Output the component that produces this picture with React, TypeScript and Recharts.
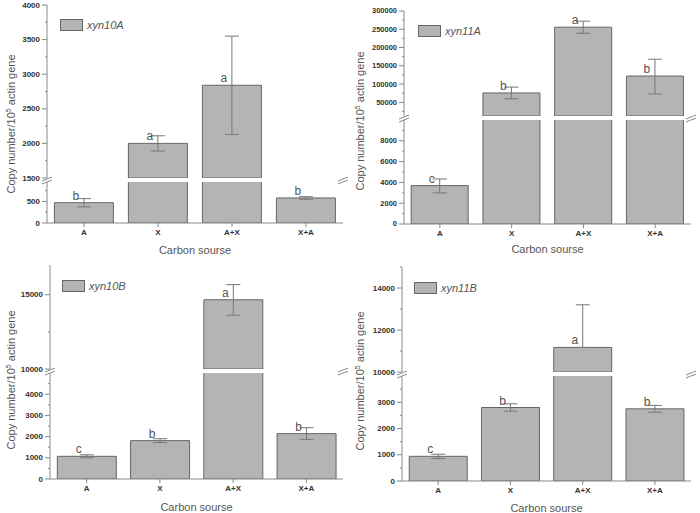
import React from "react";
import { BarChart, Bar, XAxis, YAxis, ErrorBar, LabelList, Legend } from "recharts";

const categories = ["A", "X", "A+X", "X+A"];

// xyn10A
const xyn10AValues = [470, 2000, 2840, 580];
const xyn10AErrors: [number, number][] = [[95, 95], [110, 110], [710, 710], [30, 30]];
const xyn10ALetters = ["b", "a", "a", "b"];
const xyn10AUpperMajor = [1500, 2000, 2500, 3000, 3500, 4000];
const xyn10AUpperMinor = [1750, 2250, 2750, 3250, 3750];
const xyn10ALowerMajor = [0, 500];
const xyn10ALowerMinor = [250, 750];

// xyn11A
const xyn11AValues = [3690, 75600, 255600, 122000];
const xyn11AErrors: [number, number][] = [[700, 640], [16000, 16000], [16500, 16500], [49000, 46000]];
const xyn11ALetters = ["c", "b", "a", "b"];
const xyn11AUpperMajor = [50000, 100000, 150000, 200000, 250000, 300000];
const xyn11AUpperMinor = [25000, 75000, 125000, 175000, 225000, 275000];
const xyn11ALowerMajor = [0, 2000, 4000, 6000, 8000];
const xyn11ALowerMinor = [1000, 3000, 5000, 7000, 9000];

// xyn10B
const xyn10BValues = [1070, 1810, 14660, 2140];
const xyn10BErrors: [number, number][] = [[70, 70], [90, 90], [1040, 1020], [270, 280]];
const xyn10BLetters = ["c", "b", "a", "b"];
const xyn10BUpperMajor = [10000, 15000];
const xyn10BUpperMinor = [12500];
const xyn10BLowerMajor = [0, 1000, 2000, 3000, 4000];
const xyn10BLowerMinor = [500, 1500, 2500, 3500, 4500];

// xyn11B
const xyn11BValues = [940, 2800, 11170, 2750];
const xyn11BErrors: [number, number][] = [[80, 80], [140, 140], [0, 2030], [130, 130]];
const xyn11BLetters = ["c", "b", "a", "b"];
const xyn11BUpperMajor = [10000, 12000, 14000];
const xyn11BUpperMinor = [11000, 13000, 15000];
const xyn11BLowerMajor = [0, 1000, 2000, 3000];
const xyn11BLowerMinor = [500, 1500, 2500, 3500];

const FONT = "Arial, 'Liberation Sans', sans-serif";
const AXIS = "#888";
const TEXT = "#555";
const BAR_FILL = "#b4b4b4";
const BAR_STROKE = "#666";
const YW = 40;

type PanelCfg = {
  name: string;
  values: number[];
  errors: [number, number][];
  letters: string[];
  upperDomain: [number, number];
  lowerDomain: [number, number];
  upperMajor: number[];
  upperMinor: number[];
  lowerMajor: number[];
  lowerMinor: number[];
  L: number; R: number; T: number; Bu: number; Tl: number; B: number;
  legend: [number, number];
  yLabel: [number, number];
  XH: number;
  tickFont: number;
};

const panels: PanelCfg[] = [
  {
    name: "xyn10A", values: xyn10AValues, errors: xyn10AErrors, letters: xyn10ALetters,
    upperDomain: [1500, 4000], lowerDomain: [0, 950],
    upperMajor: xyn10AUpperMajor, upperMinor: xyn10AUpperMinor,
    lowerMajor: xyn10ALowerMajor, lowerMinor: xyn10ALowerMinor,
    L: 47, R: 343, T: 5, Bu: 178, Tl: 182, B: 223, legend: [60, 19], yLabel: [11, 124], XH: 31, tickFont: 8,
  },
  {
    name: "xyn11A", values: xyn11AValues, errors: xyn11AErrors, letters: xyn11ALetters,
    upperDomain: [12500, 300000], lowerDomain: [0, 10000],
    upperMajor: xyn11AUpperMajor, upperMinor: xyn11AUpperMinor,
    lowerMajor: xyn11ALowerMajor, lowerMinor: xyn11ALowerMinor,
    L: 404, R: 691, T: 11, Bu: 116, Tl: 120, B: 224, legend: [418, 25], yLabel: [360, 121], XH: 29, tickFont: 7.5,
  },
  {
    name: "xyn10B", values: xyn10BValues, errors: xyn10BErrors, letters: xyn10BLetters,
    upperDomain: [10000, 17000], lowerDomain: [0, 5000],
    upperMajor: xyn10BUpperMajor, upperMinor: xyn10BUpperMinor,
    lowerMajor: xyn10BLowerMajor, lowerMinor: xyn10BLowerMinor,
    L: 50, R: 343, T: 265, Bu: 369, Tl: 373, B: 479, legend: [62, 280], yLabel: [11, 380], XH: 32, tickFont: 8,
  },
  {
    name: "xyn11B", values: xyn11BValues, errors: xyn11BErrors, letters: xyn11BLetters,
    upperDomain: [10000, 15000], lowerDomain: [0, 4000],
    upperMajor: xyn11BUpperMajor, upperMinor: xyn11BUpperMinor,
    lowerMajor: xyn11BLowerMajor, lowerMinor: xyn11BLowerMinor,
    L: 402, R: 691, T: 267, Bu: 372, Tl: 376, B: 481, legend: [414, 282], yLabel: [360, 381], XH: 31, tickFont: 8,
  },
];

function buildRows(p: PanelCfg) {
  const brk = p.upperDomain[0];
  const lowMax = p.lowerDomain[1];
  return categories.map((cat, i) => {
    const v = p.values[i];
    const inUpper = v > brk;
    const inLower = v <= lowMax;
    return {
      cat,
      upper: inUpper ? v : null,
      upperErr: inUpper ? p.errors[i] : null,
      upperLetter: inUpper ? p.letters[i] : "",
      lower: v,
      lowerErr: inLower ? p.errors[i] : null,
      lowerLetter: inLower ? p.letters[i] : "",
    };
  });
}

const makeYTick = (majors: number[], fs: number) => (props: any) => {
  const { x, y, payload } = props;
  const isMajor = majors.includes(payload.value);
  return (
    <g>
      <line x1={x} x2={x - (isMajor ? 5 : 2)} y1={y} y2={y} stroke={AXIS} />
      {isMajor && (
        <text x={x - 7} y={y} dy="0.33em" textAnchor="end" fontSize={fs} fontWeight="bold" fill="#333" fontFamily={FONT}>
          {payload.value}
        </text>
      )}
    </g>
  );
};

const letterLabel = (props: any) => {
  const { x, y, width, value } = props;
  if (!value || x == null || y == null) return null;
  return (
    <text x={x + width / 2 - 8} y={y - 3} textAnchor="middle" fontSize={12} fill={TEXT} fontFamily={FONT}>
      {value}
    </text>
  );
};

function Panel({ p }: { p: PanelCfg }) {
  const rows = buildRows(p);
  const plotW = p.R - p.L;
  const MR = 5;
  const MB = 6;
  const upperTop = p.T - 5;
  const upperH = p.Bu - p.T + 10;
  const lowerTop = p.Tl - 5;
  const lowerH = p.B - p.Tl + 5 + p.XH + MB;
  const chartLeft = p.L - YW;
  const chartW = plotW + YW + MR;
  const brkY = (p.Bu + p.Tl) / 2;
  const upperTicks = [...p.upperMajor, ...p.upperMinor].sort((a, b) => a - b);
  const lowerTicks = [...p.lowerMajor, ...p.lowerMinor].sort((a, b) => a - b);

  return (
    <>
      <div style={{ position: "absolute", left: chartLeft, top: upperTop }}>
        <BarChart width={chartW} height={upperH} data={rows} margin={{ top: 5, right: MR, bottom: 5, left: 0 }} barCategoryGap="10%">
          <XAxis dataKey="cat" orientation="top" height={0} tick={false} tickLine={false} axisLine={{ stroke: AXIS }} />
          <YAxis yAxisId="l" type="number" domain={p.upperDomain} allowDataOverflow ticks={upperTicks} interval={0}
            width={YW} tickSize={0} tickMargin={0} tickLine={false} axisLine={{ stroke: AXIS }} tick={makeYTick(p.upperMajor, p.tickFont)} />
          <YAxis yAxisId="r" orientation="right" type="number" domain={p.upperDomain} allowDataOverflow width={0}
            tick={false} tickLine={false} axisLine={{ stroke: AXIS }} />
          <Legend layout="vertical" align="center" verticalAlign="middle"
            wrapperStyle={{ left: p.legend[0] - chartLeft, top: p.legend[1] - upperTop, width: "auto", height: "auto" }}
            content={() => (
              <div style={{ display: "flex", alignItems: "center", fontFamily: FONT }}>
                <div style={{ width: 23, height: 12, background: BAR_FILL, border: `1px solid ${BAR_STROKE}`, boxSizing: "border-box" }} />
                <span style={{ marginLeft: 4, fontStyle: "italic", fontSize: 11, color: TEXT }}>{p.name}</span>
              </div>
            )}
          />
          <Bar yAxisId="l" dataKey="upper" name={p.name} fill={BAR_FILL} stroke={BAR_STROKE} strokeWidth={1} isAnimationActive={false}>
            <ErrorBar dataKey="upperErr" width={7} stroke="#777" strokeWidth={1} />
            <LabelList dataKey="upperLetter" content={letterLabel} />
          </Bar>
        </BarChart>
      </div>
      <div style={{ position: "absolute", left: chartLeft, top: lowerTop }}>
        <BarChart width={chartW} height={lowerH} data={rows} margin={{ top: 5, right: MR, bottom: MB, left: 0 }} barCategoryGap="10%">
          <XAxis dataKey="cat" height={p.XH} tickSize={4} tickLine={{ stroke: AXIS }} axisLine={{ stroke: AXIS }}
            tick={{ fontSize: 8, fontWeight: "bold", fill: "#333", fontFamily: FONT }} interval={0}
            label={{ value: "Carbon sourse", position: "insideBottom", offset: 0, fill: TEXT, fontSize: 11, fontFamily: FONT }} />
          <YAxis yAxisId="l" type="number" domain={p.lowerDomain} allowDataOverflow ticks={lowerTicks} interval={0}
            width={YW} tickSize={0} tickMargin={0} tickLine={false} axisLine={{ stroke: AXIS }} tick={makeYTick(p.lowerMajor, p.tickFont)} />
          <YAxis yAxisId="r" orientation="right" type="number" domain={p.lowerDomain} allowDataOverflow width={0}
            tick={false} tickLine={false} axisLine={{ stroke: AXIS }} />
          <Bar yAxisId="l" dataKey="lower" name={p.name} fill={BAR_FILL} stroke={BAR_STROKE} strokeWidth={1} isAnimationActive={false}>
            <ErrorBar dataKey="lowerErr" width={7} stroke="#777" strokeWidth={1} />
            <LabelList dataKey="lowerLetter" content={letterLabel} />
          </Bar>
        </BarChart>
      </div>
      <svg style={{ position: "absolute", left: 0, top: 0, overflow: "visible", pointerEvents: "none" }} width={700} height={513}>
        {[p.L, p.R].map((bx) => (
          <g key={bx} stroke={AXIS} strokeWidth={1}>
            <line x1={bx - 5} y1={brkY + 1} x2={bx + 5} y2={brkY - 3} />
            <line x1={bx - 5} y1={brkY + 4} x2={bx + 5} y2={brkY} />
          </g>
        ))}
        <text transform={`translate(${p.yLabel[0]},${p.yLabel[1]}) rotate(-90)`} textAnchor="middle" dy="0.35em"
          fontSize={11} fill={TEXT} fontFamily={FONT}>
          Copy number/10<tspan dy={-4} fontSize={7}>5</tspan><tspan dy={4}> actin gene</tspan>
        </text>
      </svg>
    </>
  );
}

export default function App() {
  return (
    <div style={{ position: "absolute", left: 0, top: 0, width: 700, height: 513, background: "#fff", fontFamily: FONT }}>
      {panels.map((p) => (
        <Panel key={p.name} p={p} />
      ))}
    </div>
  );
}
